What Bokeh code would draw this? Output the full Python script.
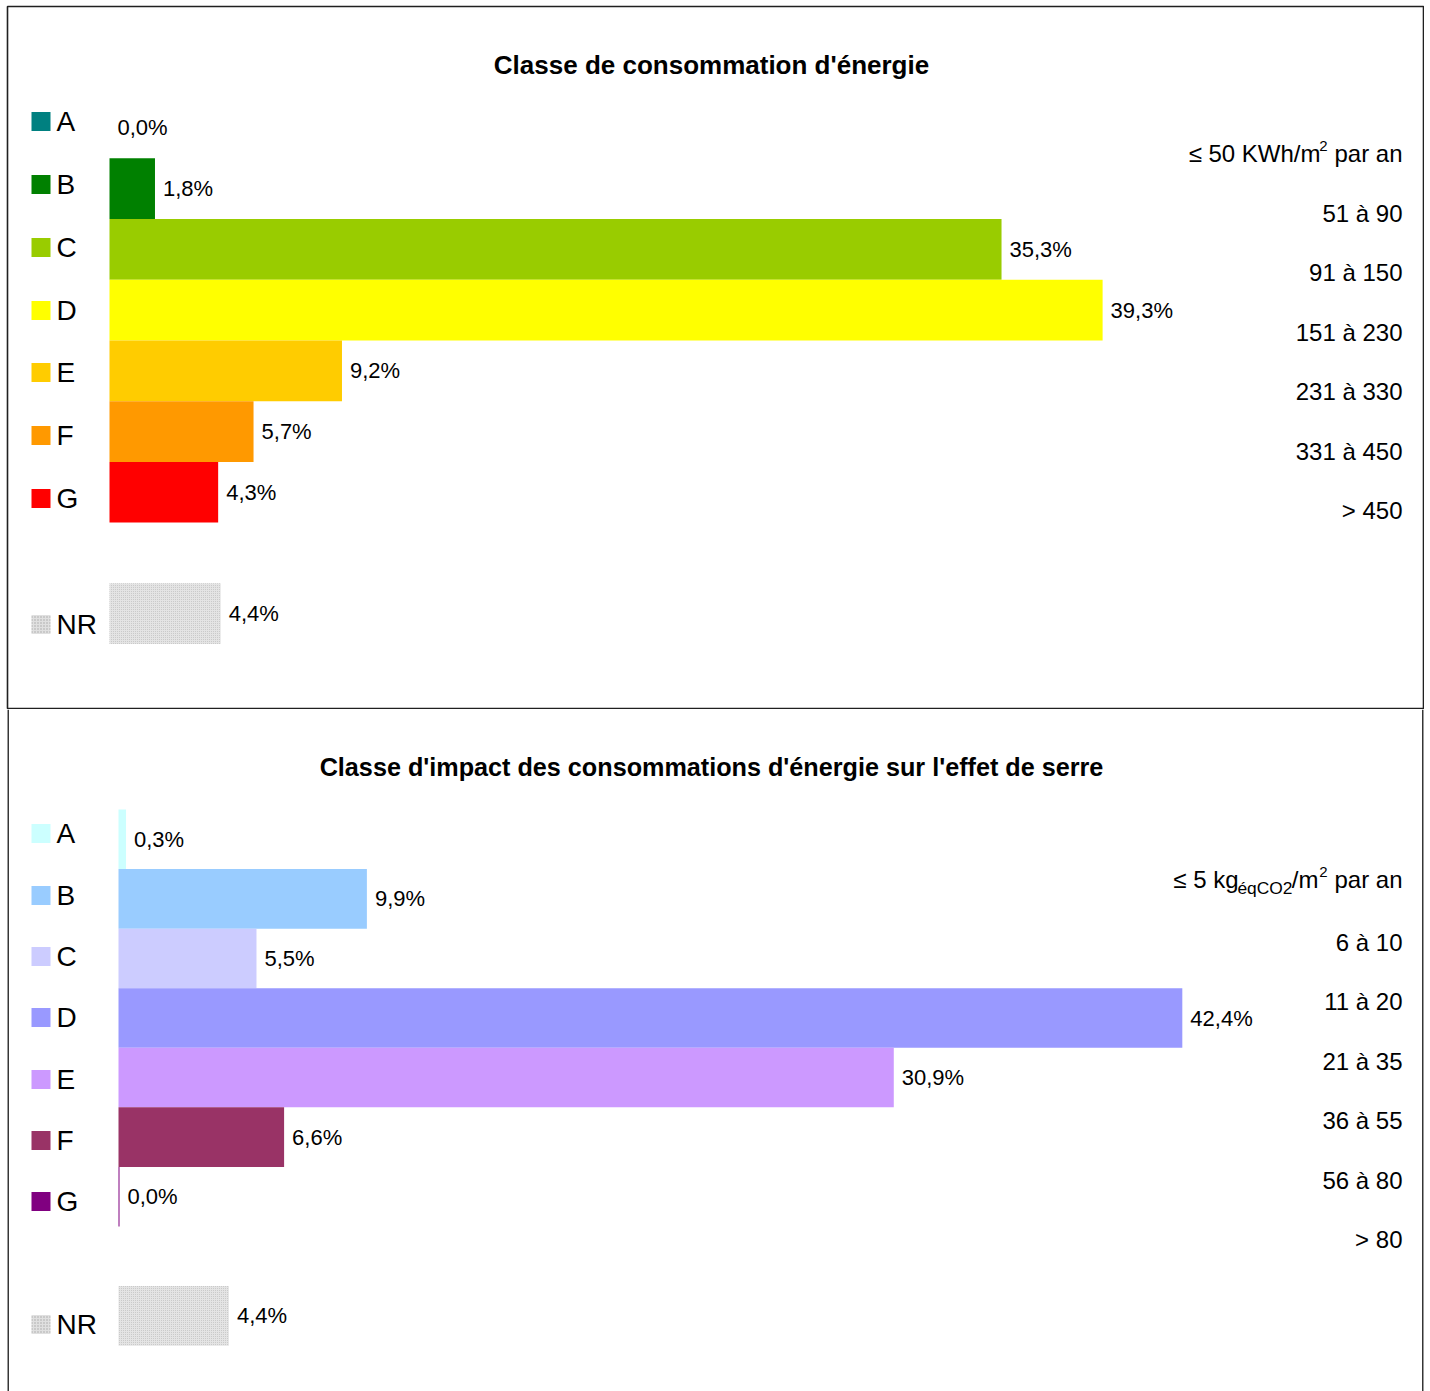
from bokeh.plotting import figure
from bokeh.models import Range1d, ColumnDataSource, Span
from bokeh.layouts import column
from bokeh.embed import file_html
from bokeh.resources import INLINE
from bokeh.core.properties import value

FONT = "Liberation Sans"

# ---------------- data ----------------
classes = ["A", "B", "C", "D", "E", "F", "G"]

energy_title = "Classe de consommation d'énergie"
energy_values = [0.0, 1.8, 35.3, 39.3, 9.2, 5.7, 4.3]
energy_nr = 4.4
energy_colors = ["#008080", "#008000", "#99cc00", "#ffff00", "#ffcc00", "#ff9900", "#ff0000"]
energy_ranges = ["51 à 90", "91 à 150", "151 à 230", "231 à 330", "331 à 450", "> 450"]

ges_title = "Classe d'impact des consommations d'énergie sur l'effet de serre"
ges_values = [0.3, 9.9, 5.5, 42.4, 30.9, 6.6, 0.04]
ges_nr = 4.4
ges_colors = ["#ccffff", "#99ccff", "#ccccff", "#9999ff", "#cc99ff", "#993366", "#800080"]
ges_ranges = ["6 à 10", "11 à 20", "21 à 35", "36 à 55", "56 à 80", "> 80"]

FW = 1416   # frame width
LEFT = 7    # page x of frame left edge
BORDER = "#202020"


def fmt(v):
    return ("%.1f" % v).replace(".", ",") + "%"


def panel(title, vals, nr, colors, ranges, FH, top, x0, pxpc, pitch, row0,
          leg_y, rng_y, first_parts, title_y, title_size, border_top, full_outline):
    xs = -x0 / pxpc
    xe = (FW - x0) / pxpc
    ys = -row0
    ye = -row0 + FH / pitch
    p = figure(width=FW + LEFT + 1, height=FH + border_top,
               x_range=Range1d(xs, xe), y_range=Range1d(ye, ys),
               output_backend="svg", toolbar_location=None,
               min_border_left=LEFT, min_border_right=1,
               min_border_top=border_top, min_border_bottom=0,
               x_axis_type=None, y_axis_type=None)
    p.extra_x_ranges = {"px": Range1d(0, FW)}
    p.extra_y_ranges = {"px": Range1d(FH, 0)}
    p.xgrid.visible = False
    p.ygrid.visible = False
    if full_outline:
        p.outline_line_color = BORDER
        p.outline_line_width = 1.6
    else:
        p.outline_line_color = None
        p.add_layout(Span(location=0.5, dimension="height", line_color=BORDER,
                          line_width=1.8, x_range_name="px"))
        p.add_layout(Span(location=FW - 0.5, dimension="height", line_color=BORDER,
                          line_width=1.8, x_range_name="px"))
    p.background_fill_color = "white"

    rows = list(range(len(classes)))
    src = ColumnDataSource(dict(y=rows, right=vals, color=colors,
                                lab=[fmt(v) for v in vals]))
    p.hbar(y="y", left=0, right="right", height=1.0, fill_color="color",
           line_color=None, source=src)
    p.text(x="right", y="y", text="lab", source=src, x_offset=8,
           text_baseline="middle", text_font=value(FONT),
           text_font_size="22px", text_color="black")

    # NR bar (row 8)
    p.hbar(y=[8], left=[0], right=[nr], height=1.0, fill_color="#e4e4e4",
           hatch_pattern="dot", hatch_color="#c2c2c2", hatch_scale=2, hatch_weight=1,
           line_color=None)
    p.text(x=[nr], y=[8], text=[fmt(nr)], x_offset=8, text_baseline="middle",
           text_font=value(FONT), text_font_size="22px", text_color="black")

    # legend (frame pixel coordinates)
    ly = [y - top for y in leg_y]
    p.rect(x=[33.5] * 7, y=ly[:7], width=19, height=19, fill_color=colors,
           line_color=None, x_range_name="px", y_range_name="px")
    p.rect(x=[33.5], y=[ly[7]], width=19, height=19, fill_color="#e0e0e0",
           hatch_pattern="dot", hatch_color="#a8a8a8", hatch_scale=3, hatch_weight=2,
           line_color=None, x_range_name="px", y_range_name="px")
    p.text(x=[49] * 8, y=[y for y in ly], text=classes + ["NR"],
           text_baseline="middle", text_font=value(FONT), text_font_size="28px",
           text_color="black", x_range_name="px", y_range_name="px")

    # range labels on the right
    ry = [y - top for y in rng_y]
    p.text(x=[1395] * len(ranges), y=ry[1:], text=ranges, text_align="right",
           text_baseline="middle", text_font=value(FONT), text_font_size="24px",
           text_color="black", x_range_name="px", y_range_name="px")
    for (txt, xr, dy, fs) in first_parts:
        p.text(x=[xr], y=[ry[0] + dy], text=[txt], text_align="right",
               text_baseline="middle", text_font=value(FONT), text_font_size=fs,
               text_color="black", x_range_name="px", y_range_name="px")

    # title
    p.text(x=[711 - LEFT], y=[title_y - top], text=[title], text_align="center",
           text_baseline="middle", text_font=value(FONT), text_font_size=title_size,
           text_font_style="bold", text_color="black",
           x_range_name="px", y_range_name="px")
    return p


top_parts = [("par an", 1395, 0, "24px"),
             ("2", 1320, -8, "15px"),
             ("≤ 50 KWh/m", 1313, 0, "24px")]
p1 = panel(energy_title, energy_values, energy_nr, energy_colors, energy_ranges,
           FH=703, top=6, x0=102, pxpc=25.27, pitch=60.71, row0=2.001,
           leg_y=[121, 184, 247, 310, 372, 435, 498, 624],
           rng_y=[153, 213, 272, 332, 391, 451, 510],
           first_parts=top_parts, title_y=64, title_size="26px",
           border_top=6, full_outline=True)

bot_parts = [("par an", 1395, 0, "24px"),
             ("2", 1320, -8, "15px"),
             ("/m", 1311, 0, "24px"),
             ("éqCO2", 1285, 8, "17.4px"),
             ("≤ 5 kg", 1231, 0, "24px")]
p2 = panel(ges_title, ges_values, ges_nr, ges_colors, ges_ranges,
           FH=682, top=709, x0=111, pxpc=25.09, pitch=59.57, row0=2.179,
           leg_y=[833, 895, 956, 1017, 1079, 1140, 1201, 1324],
           rng_y=[879, 942, 1001, 1061, 1120, 1180, 1239],
           first_parts=bot_parts, title_y=766, title_size="25.2px",
           border_top=0, full_outline=False)

layout = column(p1, p2, spacing=0)
open("out.html", "w").write(file_html(layout, INLINE))
